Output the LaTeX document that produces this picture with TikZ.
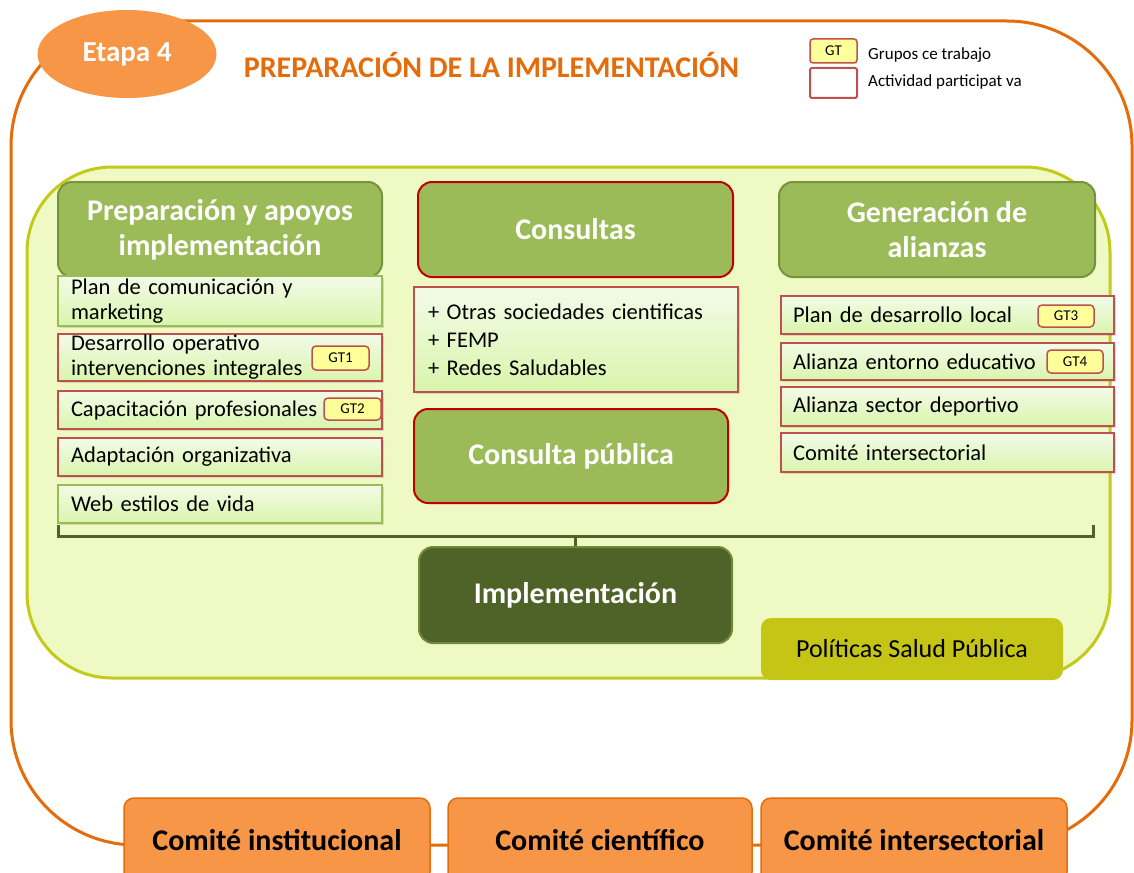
\documentclass[tikz,border=0pt]{standalone}
\usepackage{fontspec}
\setmainfont{Carlito}
\usetikzlibrary{shapes.geometric,shadows}
\definecolor{orfill}{HTML}{F79646}
\definecolor{orline}{HTML}{E46C0A}
\definecolor{regfill}{HTML}{EEF9C3}
\definecolor{regline}{HTML}{C4CA1A}
\definecolor{hdrfill}{HTML}{9BBB59}
\definecolor{hdrline}{HTML}{76923C}
\definecolor{darkred}{HTML}{C00000}
\definecolor{itemred}{HTML}{C0504D}
\definecolor{itemgreen}{HTML}{9BBB59}
\definecolor{itemtop}{HTML}{F3FBE8}
\definecolor{itembot}{HTML}{D9F5AC}
\definecolor{gtyellow}{HTML}{FFFF99}
\definecolor{impfill}{HTML}{4F6228}
\definecolor{impline}{HTML}{6F8B3A}
\definecolor{polfill}{HTML}{C4C515}
\newcommand\fhdr{\fontsize{30}{35}\selectfont\bfseries}
\newcommand\fitem{\fontsize{22.5}{25}\selectfont}
\newcommand\fgt{\fontsize{15}{17}\selectfont}
\newcommand\fcom{\fontsize{30}{34}\selectfont\bfseries}
\tikzset{
  hdr/.style={draw=hdrline, fill=hdrfill, line width=2pt, rounded corners=14pt,
    text=white, font=\fhdr, align=center, inner sep=0pt},
  hdrred/.style={hdr, draw=darkred},
  itembox/.style={line width=1.6pt, top color=itemtop, bottom color=itembot,
    inner xsep=13pt, inner ysep=0pt, align=left, font=\fitem,
    drop shadow={shadow xshift=2pt, shadow yshift=-2pt, opacity=0.25}},
  itemr/.style={itembox, draw=itemred},
  itemg/.style={itembox, draw=itemgreen},
  gt/.style={draw=itemred, fill=gtyellow, line width=1.5pt, rounded corners=4pt,
    font=\fgt, minimum width=56pt, minimum height=23pt, inner sep=0pt},
  combox/.style={draw=orline, fill=orfill, line width=1.5pt, rounded corners=10pt,
    font=\fcom, inner sep=0pt, minimum height=84pt},
}
\begin{document}
\begin{tikzpicture}[x=1pt,y=-1pt]
\useasboundingbox (0,0) rectangle (1134,872);
\clip (0,0) rectangle (1134,872);
% outer frame
\draw[orline, line width=3pt, rounded corners=125pt] (11,21) rectangle (1132,845);
% stage label
\node[ellipse, fill=orfill, minimum width=179pt, minimum height=88pt, inner sep=0pt,
  text=white, font=\fontsize{29}{32}\selectfont\bfseries] (etapa) at (127,54) {Etapa 4};
\node[text=orline, font=\fontsize{30}{34}\selectfont\bfseries, inner sep=0pt] (title) at (491.5,65)
  {PREPARACIÓN DE LA IMPLEMENTACIÓN};
% legend
\node[draw=itemred, fill=gtyellow, line width=1.5pt, rounded corners=3pt, minimum width=47pt,
  minimum height=24pt, inner sep=0pt, font=\fgt] (lgt) at (833.5,51) {GT};
\node[draw=itemred, fill=white, line width=2pt, rounded corners=2pt, minimum width=47pt,
  minimum height=30pt, inner sep=0pt] (lact) at (833.5,83) {};
\node[anchor=west, inner sep=0pt, font=\fontsize{17}{19}\selectfont] (lgtt) at (868,55) {Grupos ce trabajo};
\node[anchor=west, inner sep=0pt, font=\fontsize{17}{19}\selectfont] (lactt) at (868,82) {Actividad participat va};
% region
\draw[regline, fill=regfill, line width=3pt, rounded corners=85pt] (27,167) rectangle (1110,678);
% headers
\node[hdr, minimum width=324pt, minimum height=95pt] (h1) at (220,229.5) {Preparación y apoyos\\implementación};
\node[hdrred, minimum width=315pt, minimum height=95pt] (h2) at (575.5,229.5) {Consultas};
\node[hdr, minimum width=316pt, minimum height=95pt] (h3) at (937,229.5) {Generación de\\alianzas};
% left items
\node[itemg, text width=298pt, minimum height=50pt] (l1) at (220,301) {Plan de comunicación y\\marketing};
\node[itemr, text width=298pt, minimum height=47pt] (l2) at (220,357.5) {Desarrollo operativo\\intervenciones integrales};
\node[itemr, text width=298pt, minimum height=38pt] (l3) at (220,410) {Capacitación profesionales};
\node[itemr, text width=298pt, minimum height=38pt] (l4) at (220,457) {Adaptación organizativa};
\node[itemg, text width=298pt, minimum height=38pt] (l5) at (220,504) {Web estilos de vida};
\node[gt, minimum width=57pt, minimum height=24pt] (gt1) at (340.5,358) {GT1};
\node[gt, minimum width=57pt, minimum height=22pt] (gt2) at (352.5,409) {GT2};
% middle
\node[itemr, text width=296pt, minimum height=105pt, inner xsep=14pt,
  font=\fontsize{22.5}{28}\selectfont] (m1) at (576,339.5)
  {+ Otras sociedades cientificas\\+ FEMP\\+ Redes Saludables};
\node[hdrred, minimum width=314pt, minimum height=94pt] (m2) at (571,456) {Consulta pública};
% right items
\node[itemr, text width=309pt, minimum height=38pt, inner xsep=12pt] (r1) at (947.5,315) {Plan de desarrollo local};
\node[itemr, text width=309pt, minimum height=37pt, inner xsep=12pt] (r2) at (947.5,361.5) {Alianza entorno educativo};
\node[itemr, text width=309pt, minimum height=39pt, inner xsep=12pt] (r3) at (947.5,406.5) {Alianza sector deportivo};
\node[itemr, text width=309pt, minimum height=39pt, inner xsep=12pt] (r4) at (947.5,452.5) {Comité intersectorial};
\node[gt, minimum width=56pt, minimum height=22pt] (gt3) at (1066,316) {GT3};
\node[gt, minimum width=56pt, minimum height=23pt] (gt4) at (1075,361.5) {GT4};
% implementation
\node[draw=impline, fill=impfill, line width=2pt, rounded corners=14pt, text=white, font=\fhdr,
  minimum width=313pt, minimum height=96pt, inner sep=0pt] (impl) at (575.5,595) {Implementación};
\coordinate (bl) at (58,525);
\coordinate (br) at (1093,525);
\coordinate (bm) at (impl.north |- 0,536);
\draw[impfill, line width=3pt] (bl) |- (bm) -| (br);
\draw[impfill, line width=3pt] (bm) -- (impl.north);
\node[fill=polfill, rounded corners=10pt, minimum width=302pt, minimum height=62pt, inner sep=0pt,
  font=\fontsize{26}{30}\selectfont] (pol) at (912,649) {Políticas Salud Pública};
% committees
\node[combox, minimum width=306pt] (c1) at (277,840) {Comité institucional};
\node[combox, minimum width=304pt] (c2) at (600,840) {Comité científico};
\node[combox, minimum width=306pt] (c3) at (914,840) {Comité intersectorial};
\end{tikzpicture}
\end{document}
